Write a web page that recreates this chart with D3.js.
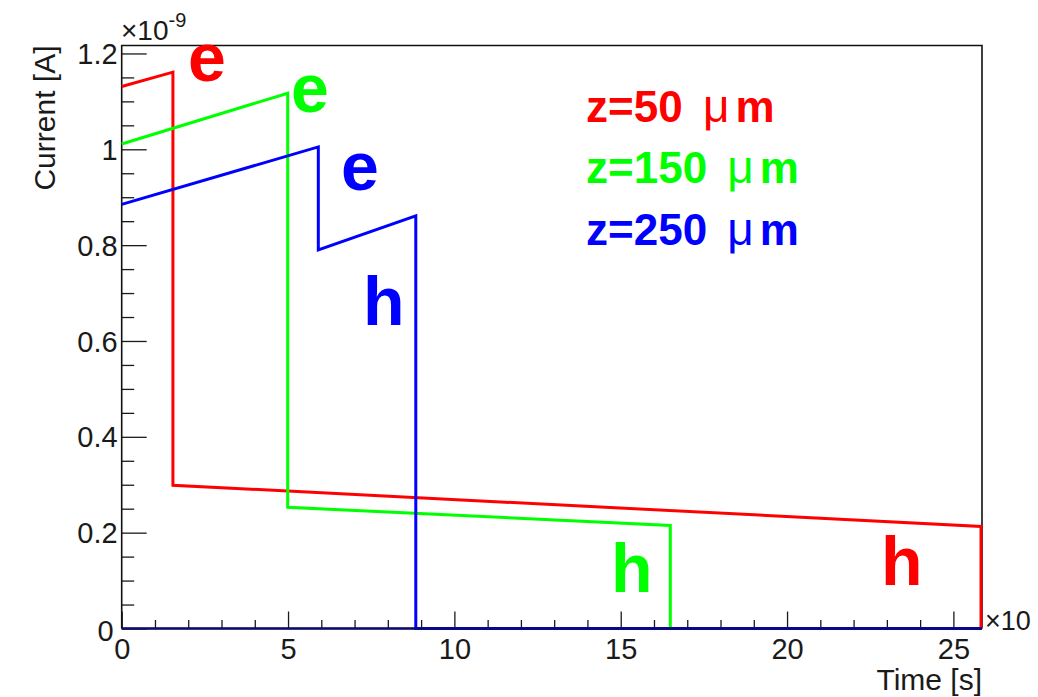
<!DOCTYPE html>
<html>
<head>
<meta charset="utf-8">
<script src="https://cdn.jsdelivr.net/npm/d3@7"></script>
<style>
  html, body { margin: 0; padding: 0; background: #fff; }
  svg { display: block; }
  text { font-family: "Liberation Sans", Arial, Helvetica, sans-serif; }
</style>
</head>
<body>
<svg id="chart" width="1038" height="697"></svg>
<script>
// Induced current pulses (time in ns, current in 1e-9 A) for three depths z
const timeRed      = [0, 1.54, 1.54, 25.83, 25.83];
const currentRed   = [1.131, 1.161, 0.299, 0.213, 0];
const timeGreen    = [0, 4.99, 4.99, 16.49, 16.49, 25.86];
const currentGreen = [1.011, 1.117, 0.253, 0.215, 0, 0];
const timeBlue     = [0, 5.91, 5.91, 8.84, 8.84, 25.86];
const currentBlue  = [0.885, 1.005, 0.790, 0.861, 0, 0];

const seriesNames  = ["z=50 ", "z=150 ", "z=250 "];
const seriesColors = ["#ff0000", "#00ff00", "#0000ff"];

// carrier labels: e = electrons, h = holes
const carrierText  = ["e", "e", "e", "h", "h", "h"];
const carrierColor = ["#ff0000", "#00ff00", "#0000ff", "#0000ff", "#00ff00", "#ff0000"];

const xMajorTicks = [0, 5, 10, 15, 20, 25];
const yMajorTicks = [0, 0.2, 0.4, 0.6, 0.8, 1, 1.2];
const yTickLabels = ["0", "0.2", "0.4", "0.6", "0.8", "1", "1.2"];

const xDomain = [0, 25.86];
const yDomain = [0, 1.2166];

const frame = { left: 121.7, right: 982, top: 45.5, bottom: 628.5 };

const svg = d3.select("#chart");
const x = d3.scaleLinear().domain(xDomain).range([frame.left, frame.right]);
const y = d3.scaleLinear().domain(yDomain).range([frame.bottom, frame.top]);

const tickColor = "#1a1a1a";

// minor ticks
const xMinor = d3.range(0, 26, 1).filter(v => v % 5 !== 0);
const yMinor = d3.range(0, 25, 1).map(i => +(i * 0.05).toFixed(2)).filter((v, i) => i % 4 !== 0);

const gxMinor = svg.append("g").attr("transform", `translate(0,${frame.bottom})`)
  .call(d3.axisBottom(x).tickValues(xMinor).tickSize(-8.5).tickFormat(""));
const gxMajor = svg.append("g").attr("transform", `translate(0,${frame.bottom})`)
  .call(d3.axisBottom(x).tickValues(xMajorTicks).tickSize(-17).tickFormat(d3.format("d")));
const gyMinor = svg.append("g").attr("transform", `translate(${frame.left},0)`)
  .call(d3.axisLeft(y).tickValues(yMinor).tickSize(-12.5).tickFormat(""));
const gyMajor = svg.append("g").attr("transform", `translate(${frame.left},0)`)
  .call(d3.axisLeft(y).tickValues(yMajorTicks).tickSize(-25)
    .tickFormat((d, i) => yTickLabels[i]));

[gxMinor, gxMajor, gyMinor, gyMajor].forEach(g => {
  g.select(".domain").remove();
  g.selectAll(".tick line").attr("stroke", tickColor).attr("stroke-width", 1.3);
  g.selectAll(".tick text").attr("fill", tickColor).attr("font-size", 29)
    .attr("font-family", "Liberation Sans, Arial, sans-serif");
});
gxMajor.selectAll(".tick text").attr("dy", "0").attr("y", 30.5);
gyMajor.selectAll(".tick text").attr("dy", "0.35em").attr("x", -4);
gyMajor.selectAll(".tick text").filter(d => d === 0).attr("x", -8).attr("dy", "0.4em");

// curves
const lineGen = d3.line().x(d => x(d[0])).y(d => y(d[1]));
const curves = [
  d3.zip(timeRed, currentRed),
  d3.zip(timeGreen, currentGreen),
  d3.zip(timeBlue, currentBlue)
];

// frame (left, top, right)
svg.append("path")
  .attr("d", `M${frame.left},${frame.bottom}V${frame.top}H${frame.right}V${frame.bottom}`)
  .attr("fill", "none").attr("stroke", "#111").attr("stroke-width", 1.6);
// bottom axis line
svg.append("line")
  .attr("x1", frame.left).attr("x2", frame.right)
  .attr("y1", frame.bottom).attr("y2", frame.bottom)
  .attr("stroke", "#111").attr("stroke-width", 1.6);

svg.append("g").selectAll("path").data(curves).join("path")
  .attr("d", lineGen)
  .attr("fill", "none")
  .attr("stroke", (d, i) => seriesColors[i])
  .attr("stroke-width", 3)
  .attr("stroke-linejoin", "miter");

// navy zero line where the blue trace rides on the axis
svg.append("line")
  .attr("x1", frame.left).attr("x2", frame.right)
  .attr("y1", frame.bottom).attr("y2", frame.bottom)
  .attr("stroke", "#0b0b70").attr("stroke-width", 2.4);

// axis titles
svg.append("text")
  .attr("x", frame.right).attr("y", 690)
  .attr("text-anchor", "end").attr("font-size", 30).attr("fill", tickColor)
  .text("Time [s]");
svg.append("text")
  .attr("transform", `translate(55,${frame.top}) rotate(-90)`)
  .attr("text-anchor", "end").attr("font-size", 30).attr("fill", tickColor)
  .text("Current [A]");

// exponent labels
const expY = svg.append("text").attr("x", 121).attr("y", 40)
  .attr("font-size", 28).attr("fill", tickColor);
expY.append("tspan").text("×10");
expY.append("tspan").attr("font-size", 20).attr("dy", -13).text("-9");

svg.append("text").attr("x", 985).attr("y", 630)
  .attr("font-size", 27).attr("fill", tickColor)
  .text("×10");

// carrier labels
const carrierPos = [
  [188, 81], [291, 112], [341, 190],
  [363, 325], [611, 592], [881, 585]
];
svg.append("g").selectAll("text").data(carrierText).join("text")
  .attr("x", (d, i) => carrierPos[i][0])
  .attr("y", (d, i) => carrierPos[i][1])
  .attr("font-size", 68).attr("font-weight", "bold")
  .attr("fill", (d, i) => carrierColor[i])
  .text(d => d);

// depth legend
const legendBase = [122, 183, 245];
seriesNames.forEach((name, i) => {
  const t = svg.append("text")
    .attr("x", 586).attr("y", legendBase[i])
    .attr("font-size", 44).attr("font-weight", "bold")
    .attr("fill", seriesColors[i]);
  t.append("tspan").text(name);
  t.append("tspan").attr("dx", 8).attr("font-weight", "normal").attr("font-size", 46).text("μ");
  t.append("tspan").attr("dx", 6).text("m");
});
</script>
</body>
</html>
